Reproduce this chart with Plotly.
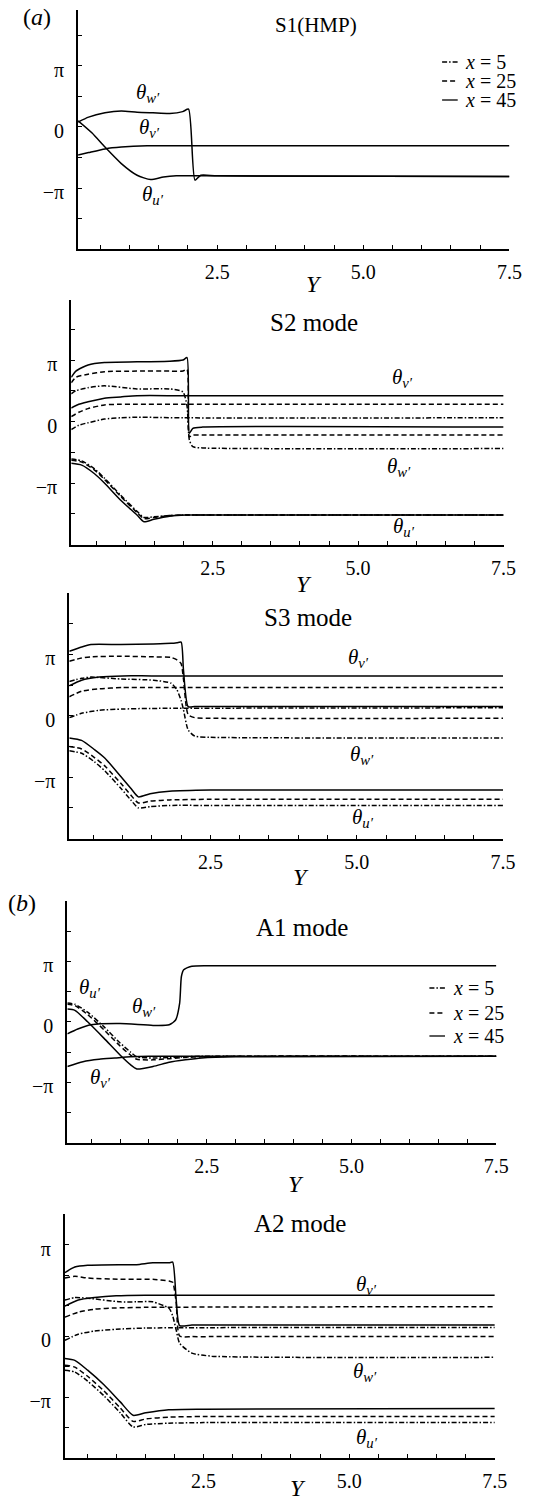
import plotly.graph_objects as go

# ---------------- data (phase in units of pi, abscissa Y) ----------------
# Panel S1(HMP): the three x-stations coincide
S1_W_Y = [0.12, 0.30, 0.58, 0.86, 1.13, 1.40, 1.69, 1.91, 2.01, 2.12, 2.22, 2.50, 7.50]
S1_W = [0.08, 0.16, 0.23, 0.26, 0.24, 0.23, 0.22, 0.25, 0.29, -0.87, -0.79, -0.80, -0.81]
S1_U_Y = [0.12, 0.36, 0.58, 0.86, 1.13, 1.36, 1.58, 1.80, 2.50, 7.50]
S1_U = [0.10, -0.10, -0.33, -0.60, -0.79, -0.86, -0.82, -0.80, -0.80, -0.81]
S1_V_Y = [0.12, 0.30, 0.58, 0.86, 1.30, 7.50]
S1_V = [-0.46, -0.42, -0.36, -0.33, -0.31, -0.31]

# Panel S2 mode
S2_W_Y = [0.07, 0.15, 0.36, 0.64, 1.20, 1.76, 1.99, 2.06, 2.10, 2.16, 2.33, 7.50]
S2_W45 = [0.72, 0.82, 0.92, 0.96, 0.97, 0.98, 1.00, 1.04, -0.19, -0.11, -0.09, -0.09]
S2_W25 = [0.63, 0.72, 0.77, 0.81, 0.82, 0.82, 0.82, 0.85, -0.25, -0.22, -0.22, -0.22]
S2_W5 = [0.45, 0.50, 0.55, 0.58, 0.53, 0.53, 0.48, 0.25, -0.30, -0.41, -0.43, -0.44]
S2_V_Y = [0.07, 0.20, 0.36, 0.64, 0.92, 1.20, 2.00, 7.50]
S2_V45 = [0.22, 0.28, 0.32, 0.38, 0.40, 0.42, 0.42, 0.42]
S2_V25 = [0.08, 0.15, 0.21, 0.27, 0.28, 0.28, 0.28, 0.28]
S2_V5 = [-0.13, -0.06, -0.02, 0.04, 0.06, 0.07, 0.06, 0.06]
S2_U_Y = [0.07, 0.25, 0.47, 0.64, 0.92, 1.20, 1.32, 1.49, 1.76, 2.04, 2.50, 7.50]
S2_U45 = [-0.68, -0.71, -0.85, -1.00, -1.28, -1.52, -1.63, -1.59, -1.54, -1.52, -1.52, -1.52]
S2_U25 = [-0.63, -0.66, -0.79, -0.94, -1.22, -1.48, -1.58, -1.56, -1.53, -1.52, -1.52, -1.52]
S2_U5 = [-0.61, -0.64, -0.77, -0.92, -1.20, -1.46, -1.56, -1.55, -1.53, -1.52, -1.52, -1.52]

# Panel S3 mode
S3_W_Y = [0.09, 0.30, 0.46, 0.97, 1.53, 1.83, 1.93, 2.00, 2.04, 2.12, 2.23, 2.50, 7.50]
S3_W45 = [1.05, 1.12, 1.16, 1.16, 1.17, 1.18, 1.19, 1.20, 0.75, 0.15, 0.15, 0.15, 0.15]
S3_W25 = [0.89, 0.94, 0.96, 0.97, 0.96, 0.95, 0.91, 0.85, 0.60, 0.02, -0.03, -0.04, -0.04]
S3_W5 = [0.56, 0.61, 0.63, 0.60, 0.58, 0.53, 0.42, 0.25, 0.10, -0.23, -0.33, -0.35, -0.36]
S3_V_Y = [0.09, 0.30, 0.60, 1.00, 1.50, 7.50]
S3_V45 = [0.49, 0.58, 0.63, 0.65, 0.65, 0.65]
S3_V25 = [0.31, 0.40, 0.44, 0.46, 0.46, 0.46]
S3_V5 = [-0.03, 0.04, 0.09, 0.11, 0.12, 0.13]
S3_U_Y = [0.09, 0.30, 0.52, 0.70, 0.97, 1.14, 1.27, 1.47, 1.80, 2.50, 7.50]
S3_U45 = [-0.36, -0.40, -0.55, -0.69, -0.99, -1.18, -1.32, -1.27, -1.23, -1.21, -1.21]
S3_U25 = [-0.50, -0.54, -0.68, -0.82, -1.10, -1.29, -1.42, -1.39, -1.37, -1.36, -1.36]
S3_U5 = [-0.57, -0.61, -0.75, -0.90, -1.18, -1.37, -1.50, -1.48, -1.46, -1.46, -1.46]

# Panel A1 mode
A1_W_Y = [0.09, 0.27, 0.50, 1.00, 1.57, 1.85, 1.96, 2.03, 2.06, 2.10, 2.24, 2.52, 7.50]
A1_W = [-0.20, -0.12, -0.05, -0.03, -0.06, -0.05, 0.03, 0.31, 0.75, 0.86, 0.92, 0.93, 0.93]
A1_V_Y = [0.09, 0.36, 0.64, 0.91, 1.18, 1.50, 7.50]
A1_V = [-0.74, -0.66, -0.62, -0.60, -0.58, -0.57, -0.57]
A1_U_Y = [0.09, 0.22, 0.44, 0.72, 1.00, 1.18, 1.29, 1.57, 1.85, 2.13, 2.41, 3.00, 7.50]
A1_U45 = [0.21, 0.19, 0.00, -0.27, -0.55, -0.71, -0.78, -0.74, -0.67, -0.63, -0.60, -0.58, -0.57]
A1_U25 = [0.29, 0.27, 0.12, -0.13, -0.40, -0.55, -0.62, -0.63, -0.61, -0.59, -0.58, -0.57, -0.57]
A1_U5 = [0.31, 0.29, 0.16, -0.08, -0.35, -0.50, -0.58, -0.60, -0.59, -0.58, -0.57, -0.57, -0.57]

# Panel A2 mode
A2_W_Y = [0.12, 0.29, 0.51, 1.07, 1.35, 1.63, 1.91, 1.97, 2.03, 2.09, 2.30, 2.64, 7.50]
A2_W45 = [1.04, 1.13, 1.16, 1.17, 1.17, 1.20, 1.20, 1.21, 0.60, 0.17, 0.18, 0.18, 0.18]
A2_W25 = [0.95, 0.98, 0.95, 0.93, 0.93, 0.93, 0.90, 0.88, 0.55, 0.00, -0.01, -0.01, -0.01]
A2_W5 = [0.59, 0.63, 0.62, 0.56, 0.56, 0.56, 0.45, 0.33, 0.10, -0.12, -0.28, -0.33, -0.35]
A2_V_Y = [0.12, 0.35, 0.63, 1.00, 1.50, 7.50]
A2_V45 = [0.49, 0.59, 0.63, 0.66, 0.67, 0.67]
A2_V25 = [0.31, 0.39, 0.44, 0.46, 0.47, 0.48]
A2_V5 = [-0.07, 0.03, 0.08, 0.11, 0.13, 0.14]
A2_U_Y = [0.12, 0.29, 0.51, 0.79, 1.07, 1.29, 1.51, 1.90, 2.50, 7.50]
A2_U45 = [-0.37, -0.40, -0.56, -0.80, -1.08, -1.30, -1.26, -1.21, -1.20, -1.19]
A2_U25 = [-0.48, -0.51, -0.66, -0.90, -1.18, -1.40, -1.36, -1.33, -1.32, -1.32]
A2_U5 = [-0.56, -0.59, -0.74, -0.98, -1.26, -1.49, -1.45, -1.43, -1.42, -1.42]

# ticks and tick labels
PHASE_MINOR = [-1.5, -1.0, -0.5, 0.0, 0.5, 1.0, 1.5]
PHASE_TICKS = [-1.0, 0.0, 1.0]
PHASE_TEXT = ["−π", "0", "π"]
PHASE_TICKS_A2 = [-1.0, 0.0, 1.5]
PHASE_TEXT_A2 = ["−π", "0", "π"]
SPAN_MINOR = [0.5, 1.0, 1.5, 2.0, 2.5, 3.0, 3.5, 4.0, 4.5, 5.0, 5.5, 6.0, 6.5, 7.0, 7.5]
SPAN_TICKS = [2.5, 5.0, 7.5]
SPAN_TEXT = ["2.5", "5.0", "7.5"]

STATIONS = ["x = 5", "x = 25", "x = 45"]

# ---------------- styling / layout ----------------
W, H = 540, 1500
FONT = "Liberation Serif"
DASH = {"x5": "5px,2px,1.5px,2px", "x25": "5px,3px", "x45": "solid"}

# panel pixel boxes: left, right, top, bottom, first Y, top of phase axis
PANELS = [
    (80, 522, 10, 249.3, 0.12, 1.91),
    (73, 516, 300, 544.5, 0.07, 1.976),
    (71, 515.5, 593, 838.6, 0.09, 2.0),
    (69, 508.6, 901, 1142.6, 0.09, 2.0),
    (66.5, 507, 1214, 1458, 0.12, 2.0),
]


def px(x):
    return x / W


def py(y):
    return 1 - y / H


fig = go.Figure()


def add(i, xs, ys, style):
    sfx = "" if i == 1 else str(i)
    fig.add_trace(go.Scatter(
        x=xs, y=ys, mode="lines", xaxis="x" + sfx, yaxis="y" + sfx,
        line=dict(color="black", width=1.5, dash=DASH[style], shape="spline", smoothing=0.6),
        showlegend=False, hoverinfo="skip"))


# S1
add(1, S1_V_Y, S1_V, "x45")
add(1, S1_U_Y, S1_U, "x45")
add(1, S1_W_Y, S1_W, "x45")
# S2
for ys, st in [(S2_W5, "x5"), (S2_W25, "x25"), (S2_W45, "x45")]:
    add(2, S2_W_Y, ys, st)
for ys, st in [(S2_V5, "x5"), (S2_V25, "x25"), (S2_V45, "x45")]:
    add(2, S2_V_Y, ys, st)
for ys, st in [(S2_U5, "x5"), (S2_U25, "x25"), (S2_U45, "x45")]:
    add(2, S2_U_Y, ys, st)
# S3
for ys, st in [(S3_W5, "x5"), (S3_W25, "x25"), (S3_W45, "x45")]:
    add(3, S3_W_Y, ys, st)
for ys, st in [(S3_V5, "x5"), (S3_V25, "x25"), (S3_V45, "x45")]:
    add(3, S3_V_Y, ys, st)
for ys, st in [(S3_U5, "x5"), (S3_U25, "x25"), (S3_U45, "x45")]:
    add(3, S3_U_Y, ys, st)
# A1
add(4, A1_W_Y, A1_W, "x45")
add(4, A1_V_Y, A1_V, "x45")
for ys, st in [(A1_U5, "x5"), (A1_U25, "x25"), (A1_U45, "x45")]:
    add(4, A1_U_Y, ys, st)
# A2
for ys, st in [(A2_W5, "x5"), (A2_W25, "x25"), (A2_W45, "x45")]:
    add(5, A2_W_Y, ys, st)
for ys, st in [(A2_V5, "x5"), (A2_V25, "x25"), (A2_V45, "x45")]:
    add(5, A2_V_Y, ys, st)
for ys, st in [(A2_U5, "x5"), (A2_U25, "x25"), (A2_U45, "x45")]:
    add(5, A2_U_Y, ys, st)

layout = dict(
    width=W, height=H, autosize=False,
    margin=dict(l=0, r=0, t=0, b=0),
    paper_bgcolor="white", plot_bgcolor="white",
    font=dict(family=FONT, color="black", size=20),
    showlegend=False,
)

TICKSTYLE = dict(ticks="inside", ticklen=4, tickwidth=1.3, tickcolor="black")

for k, (L, R, T, B, y0, ytop) in enumerate(PANELS, start=1):
    sfx = "" if k == 1 else str(k)
    layout["xaxis" + sfx] = dict(
        domain=[px(L), px(R)], range=[y0, 7.5], anchor="y" + sfx,
        showgrid=False, zeroline=False, showline=True, linecolor="black", linewidth=2,
        tickmode="array", tickvals=SPAN_TICKS, ticktext=SPAN_TEXT, **TICKSTYLE,
        minor=dict(tickmode="array", tickvals=SPAN_MINOR, showgrid=False, **TICKSTYLE),
        tickfont=dict(family=FONT, size=20, color="black"), ticklabelstandoff=4,
    )
    layout["yaxis" + sfx] = dict(
        domain=[py(B), py(T)], range=[-2.0, ytop], anchor="x" + sfx,
        showgrid=False, zeroline=False, showline=True, linecolor="black", linewidth=2,
        tickmode="array",
        tickvals=PHASE_TICKS_A2 if k == 5 else PHASE_TICKS,
        ticktext=PHASE_TEXT_A2 if k == 5 else PHASE_TEXT, **TICKSTYLE,
        minor=dict(tickmode="array", tickvals=PHASE_MINOR, showgrid=False, **TICKSTYLE),
        tickfont=dict(family=FONT, size=20, color="black"), ticklabelstandoff=8, ticklabelshift=4,
    )

ann = []


def text(x, y, s, size=20, xanchor="center"):
    ann.append(dict(x=px(x), y=py(y), xref="paper", yref="paper", text=s, showarrow=False,
                    xanchor=xanchor, yanchor="middle", font=dict(family=FONT, size=size, color="black")))


TW = "<i>θ</i><sub><i>w′</i></sub>"
TV = "<i>θ</i><sub><i>v′</i></sub>"
TU = "<i>θ</i><sub><i>u′</i></sub>"

# panel letters and titles
text(38, 17, "(<i>a</i>)", 24)
text(23, 903, "(<i>b</i>)", 24)
text(324, 25, "S1(HMP)", 21)
text(322, 322, "S2 mode", 25)
text(316, 617, "S3 mode", 25)
text(309, 927, "A1 mode", 25)
text(307, 1223, "A2 mode", 25)

# abscissa titles
for (xx, yy) in [(322, 284), (312, 584), (308, 877), (303, 1184), (305, 1488)]:
    text(xx, yy, "<i>Y</i>", 24)

# curve labels
text(152, 93, TW, 21); text(153, 128, TV, 21); text(157, 195, TU, 21)
text(412, 378, TV, 21); text(409, 467, TW, 21); text(414, 527, TU, 21)
text(367, 658, TV, 21); text(371, 755, TW, 21); text(372, 818, TU, 21)
text(92, 988, TU, 21); text(148, 1007, TW, 21); text(103, 1078, TV, 21)
text(376, 1285, TV, 21); text(374, 1372, TW, 21); text(376, 1438, TU, 21)

# legends (panel a and panel b)
shapes = []
for (lx0, lx1, tx, rows) in [(453, 469, 474, [62, 81, 100]), (440, 456, 462, [988, 1013, 1036])]:
    for st, lab, ry in zip(["x5", "x25", "x45"], STATIONS, rows):
        shapes.append(dict(type="line", xref="paper", yref="paper",
                           x0=px(lx0), x1=px(lx1), y0=py(ry), y1=py(ry),
                           line=dict(color="black", width=1.3, dash=DASH[st])))
        text(tx, ry, "<i>x</i>" + lab[1:], 20, xanchor="left")

layout["annotations"] = ann
layout["shapes"] = shapes
fig.update_layout(**layout)
fig.write_html("out.html")
